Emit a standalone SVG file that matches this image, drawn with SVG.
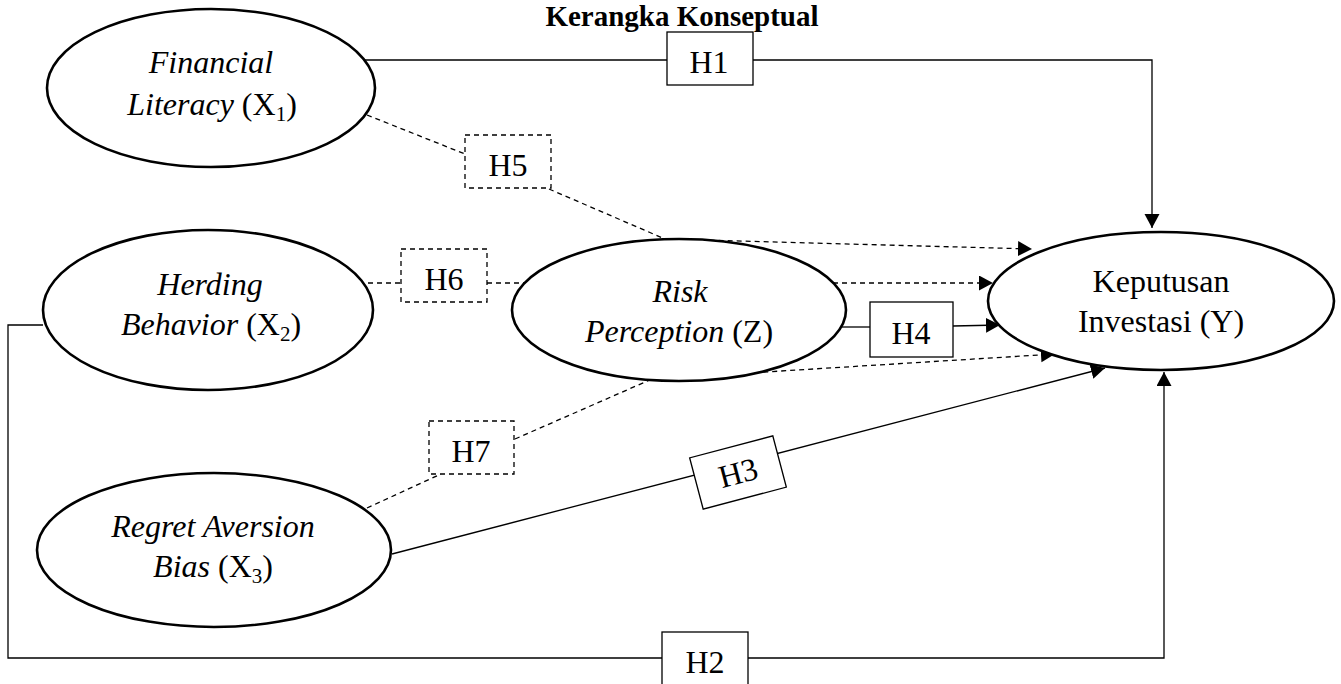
<svg xmlns="http://www.w3.org/2000/svg" width="1341" height="684" viewBox="0 0 1341 684">
<style>
text{font-family:"Liberation Serif","Times New Roman",serif;font-size:32px;fill:#000;text-anchor:middle}
.i{font-style:italic}
.title{font-weight:bold;font-size:29px}
.node{fill:#fff;stroke:#000;stroke-width:2.6}
.box{fill:#fff;stroke:#000;stroke-width:1.3}
.dbox{fill:#fff;stroke:#000;stroke-width:1.3;stroke-dasharray:5 4}
.ln{fill:none;stroke:#000;stroke-width:1.3}
.dl{fill:none;stroke:#000;stroke-width:1.3;stroke-dasharray:5 4}
.sub{font-size:21px}
</style>
<defs>
<marker id="arr" markerUnits="userSpaceOnUse" markerWidth="16" markerHeight="16" refX="14" refY="7.5" orient="auto">
<path d="M0,0 L14,7.5 L0,15 z" fill="#000"/>
</marker>
</defs>
<rect width="1341" height="684" fill="#fff"/>
<text class="title" x="682" y="26">Kerangka Konseptual</text>
<g id="connectors">
<polyline class="ln" points="365,60 667,60"/>
<polyline class="ln" points="753,60 1152,60 1152,228" marker-end="url(#arr)"/>
<polyline class="dl" points="367,115 465,154"/>
<polyline class="dl" points="549,189 665,239 1032,249" marker-end="url(#arr)"/>
<polyline class="dl" points="368,283 401,283"/>
<polyline class="dl" points="487,283 526,283"/>
<polyline class="dl" points="833,283 993,283" marker-end="url(#arr)"/>
<polyline class="ln" points="842,327 870,327"/>
<polyline class="ln" points="953,326 1000,325" marker-end="url(#arr)"/>
<polyline class="dl" points="367,508 441,474"/>
<polyline class="dl" points="515,439 652,379 1055,354" marker-end="url(#arr)"/>
<polyline class="ln" points="392,554 1105,368" marker-end="url(#arr)"/>
<polyline class="ln" points="43,325 8,325 8,658 662,658"/>
<polyline class="ln" points="748,658 1164,658 1164,372" marker-end="url(#arr)"/>
</g>
<g id="node-x1">
<ellipse class="node" cx="211" cy="88" rx="164" ry="79"/>
<text class="i" x="211" y="73">Financial</text>
<text x="212" y="115"><tspan class="i">Literacy</tspan> (X<tspan class="sub" dy="6">1</tspan><tspan dy="-6">)</tspan></text>
</g>
<g id="node-x2">
<ellipse class="node" cx="208" cy="310" rx="165" ry="80"/>
<text class="i" x="210" y="295">Herding</text>
<text x="211" y="335"><tspan class="i">Behavior</tspan> (X<tspan class="sub" dy="6">2</tspan><tspan dy="-6">)</tspan></text>
</g>
<g id="node-x3">
<ellipse class="node" cx="214" cy="550" rx="177" ry="77"/>
<text class="i" x="213" y="537">Regret Aversion</text>
<text x="213" y="577"><tspan class="i">Bias</tspan> (X<tspan class="sub" dy="6">3</tspan><tspan dy="-6">)</tspan></text>
</g>
<g id="node-z">
<ellipse class="node" cx="679" cy="310" rx="167" ry="71"/>
<text class="i" x="680" y="302">Risk</text>
<text x="679" y="342"><tspan class="i">Perception</tspan> (Z)</text>
</g>
<g id="node-y">
<ellipse class="node" cx="1161" cy="301" rx="173" ry="69"/>
<text x="1161" y="292">Keputusan</text>
<text x="1161" y="332">Investasi (Y)</text>
</g>
<g id="label-h1">
<rect class="box" x="667" y="32" width="86" height="53"/>
<text x="709" y="73">H1</text>
</g>
<g id="label-h5">
<rect class="dbox" x="465" y="135" width="86" height="53"/>
<text x="508" y="176">H5</text>
</g>
<g id="label-h6">
<rect class="dbox" x="401" y="249" width="86" height="53"/>
<text x="444" y="290">H6</text>
</g>
<g id="label-h4">
<rect class="box" x="870" y="302" width="83" height="55"/>
<text x="911" y="344">H4</text>
</g>
<g id="label-h7">
<rect class="dbox" x="429" y="421" width="85" height="53"/>
<text x="471" y="462">H7</text>
</g>
<g id="label-h3" transform="translate(738,472.5) rotate(-14.8)">
<rect class="box" x="-43" y="-26.5" width="86" height="53"/>
<text x="0" y="11">H3</text>
</g>
<g id="label-h2">
<rect class="box" x="662" y="632" width="86" height="60"/>
<text x="705" y="673">H2</text>
</g>
</svg>
